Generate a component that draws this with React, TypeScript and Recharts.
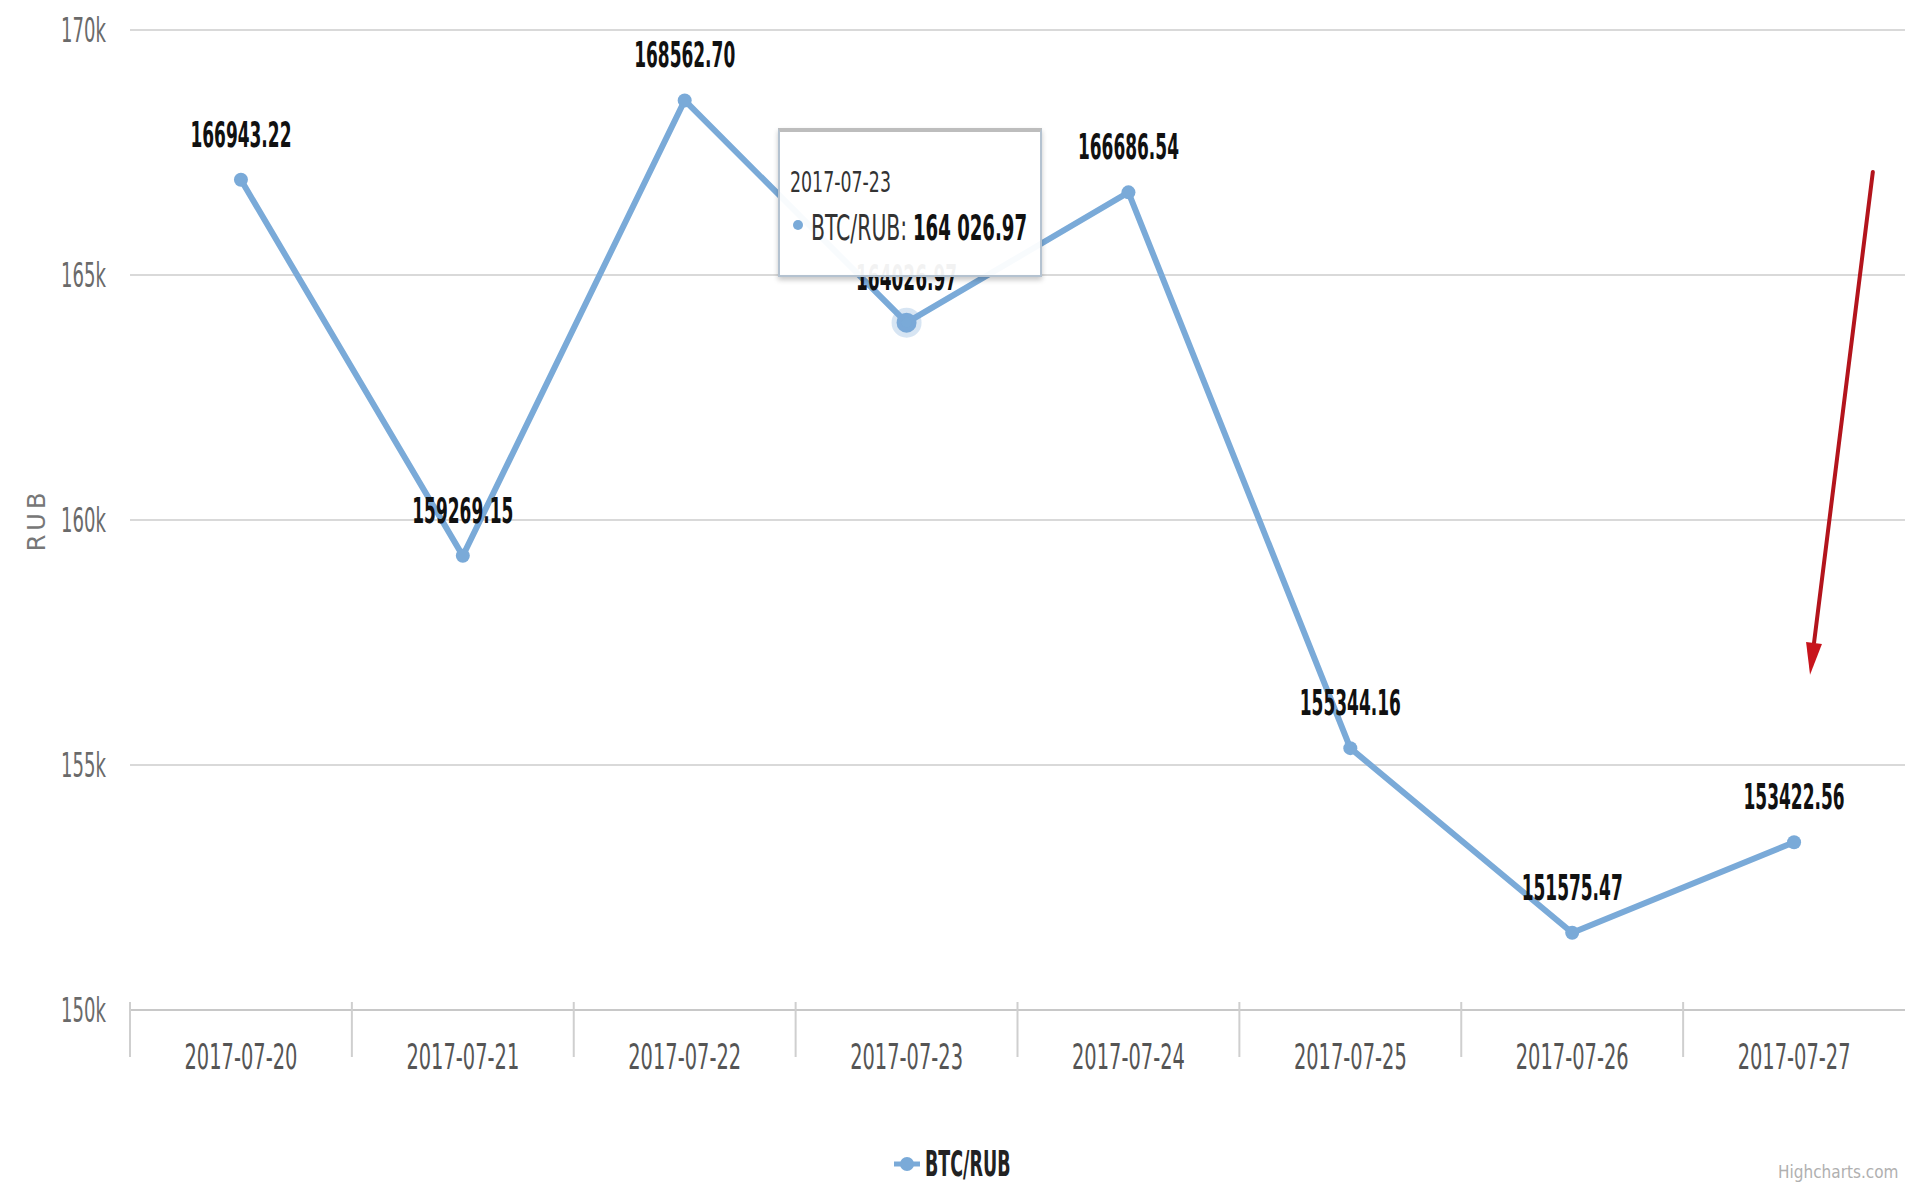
import React from 'react';
import {
  LineChart,
  Line,
  XAxis,
  YAxis,
  CartesianGrid,
  Tooltip,
  Legend,
  ReferenceLine,
  LabelList,
} from 'recharts';

// ---------- data ----------
const dates = [
  '2017-07-20',
  '2017-07-21',
  '2017-07-22',
  '2017-07-23',
  '2017-07-24',
  '2017-07-25',
  '2017-07-26',
  '2017-07-27',
];
const btcRub = [166943.22, 159269.15, 168562.7, 164026.97, 166686.54, 155344.16, 151575.47, 153422.56];
const yTicks = [150000, 155000, 160000, 165000, 170000];
const yTickLabels = ['150k', '155k', '160k', '165k', '170k'];
const xTickIndexes = [0, 1, 2, 3, 4, 5, 6, 7];
const seriesName = 'BTC/RUB';
const yAxisTitle = 'RUB';
const creditText = 'Highcharts.com';
const highlightedIndex = 3;
// annotation arrow, in (category index, RUB) units
const arrowFrom = { x: 7.355, y: 167100 };
const arrowTo = { x: 7.072, y: 156840 };

const data = dates.map((d, i) => ({ idx: i, date: d, value: btcRub[i] }));

// ---------- styles ----------
const FONT = '"Liberation Sans Narrow", "DejaVu Sans Condensed", "Arial Narrow", sans-serif';
const LINE_COLOR = '#7aaad8';

const CText = ({ x, y, anchor = 'middle', size, weight = 'normal', fill, sx, children }: any) => (
  <text
    transform={`translate(${x},${y}) scale(${sx},1)`}
    x={0}
    y={0}
    textAnchor={anchor}
    fontSize={size}
    fontWeight={weight}
    fill={fill}
    fontFamily={FONT}
  >
    {children}
  </text>
);

const YTick = (props: any) => {
  const { x, y, payload } = props;
  const idx = yTicks.indexOf(payload.value);
  const label = idx >= 0 ? yTickLabels[idx] : `${payload.value / 1000}k`;
  return (
    <CText x={x} y={y + 12} anchor="end" size={34} fill="#6a6a6a" sx={0.59}>
      {label}
    </CText>
  );
};

const XTick = (props: any) => {
  const { x, y, payload, width, visibleTicksCount } = props;
  const half = width / (visibleTicksCount || dates.length) / 2;
  return (
    <g>
      <line x1={x - half} x2={x - half} y1={y - 8} y2={y + 47} stroke="#cfcfcf" strokeWidth={2} />
      <CText x={x} y={y + 59} anchor="middle" size={36} fill="#555" sx={0.6}>
        {dates[payload.value]}
      </CText>
    </g>
  );
};

const renderPointLabel = (props: any) => {
  const vb = props.viewBox || {};
  const cx = typeof props.x === 'number' ? props.x + (props.width || 0) / 2 : vb.x + (vb.width || 0) / 2;
  const cy = typeof props.y === 'number' ? props.y : vb.y;
  return (
    <CText x={cx} y={cy - 33} size={35} weight="bold" fill="#111" sx={0.54}>
      {Number(props.value).toFixed(2)}
    </CText>
  );
};

const renderYLabel = (props: any) => {
  const vb = props.viewBox || { x: 0, y: 0, width: 0, height: 0 };
  const cx = vb.x + 37;
  const cy = vb.y + vb.height / 2;
  return (
    <text
      x={cx}
      y={cy}
      transform={`rotate(-90, ${cx}, ${cy})`}
      textAnchor="middle"
      dominantBaseline="central"
      fontSize={24}
      letterSpacing={4}
      fill="#777"
      fontFamily='"DejaVu Sans", sans-serif'
    >
      {yAxisTitle}
    </text>
  );
};

const ArrowShape = (props: any) => {
  const { x1, y1, x2, y2 } = props;
  if ([x1, y1, x2, y2].some((v) => typeof v !== 'number' || isNaN(v))) return <g />;
  const dx = x2 - x1;
  const dy = y2 - y1;
  const len = Math.sqrt(dx * dx + dy * dy) || 1;
  const ux = dx / len;
  const uy = dy / len;
  const headLen = 32;
  const headHalf = 8;
  const bx = x2 - ux * headLen;
  const by = y2 - uy * headLen;
  const px = -uy;
  const py = ux;
  return (
    <g>
      <line x1={x1} y1={y1} x2={bx} y2={by} stroke="#b3141c" strokeWidth={4} strokeLinecap="round" />
      <polygon
        points={`${x2},${y2} ${bx + px * headHalf},${by + py * headHalf} ${bx - px * headHalf},${by - py * headHalf}`}
        fill="#c8141c"
      />
    </g>
  );
};

const formatSpaced = (v: number) => {
  const [i, d] = v.toFixed(2).split('.');
  return `${i.replace(/\B(?=(\d{3})+(?!\d))/g, ' ')}.${d}`;
};

const TooltipBox = (props: any) => {
  const { active, payload } = props;
  if (!active || !payload || !payload.length) return null;
  const row = payload[0].payload || {};
  const v = Number(payload[0].value);
  return (
    <div
      style={{
        width: 264,
        height: 149,
        boxSizing: 'border-box',
        background: 'rgba(255,255,255,0.95)',
        border: '2px solid #b4c2d0',
        borderTop: '4px solid #bdbdbd',
        boxShadow: '0 3px 5px rgba(0,0,0,0.22)',
      }}
    >
      <svg width={260} height={143} style={{ display: 'block' }}>
        <CText x={10} y={60} anchor="start" size={28} fill="#333" sx={0.69}>
          {row.date}
        </CText>
        <circle cx={18} cy={93} r={5} fill={LINE_COLOR} />
        <CText x={31} y={108} anchor="start" size={36} fill="#333" sx={0.63}>
          {`${seriesName}:`}
        </CText>
        <CText x={133} y={108} anchor="start" size={36} weight="bold" fill="#111" sx={0.56}>
          {formatSpaced(v)}
        </CText>
      </svg>
    </div>
  );
};

const LegendBox = () => (
  <div style={{ height: 46, display: 'flex', justifyContent: 'center', alignItems: 'flex-start' }}>
    <svg width={160} height={46} style={{ display: 'block', marginLeft: 42 }}>
      <line x1={0} x2={26} y1={24} y2={24} stroke={LINE_COLOR} strokeWidth={5} />
      <circle cx={13} cy={24} r={7} fill={LINE_COLOR} />
      <CText x={31} y={36} anchor="start" size={36} weight="bold" fill="#222" sx={0.54}>
        {seriesName}
      </CText>
    </svg>
  </div>
);

export default function App() {
  return (
    <div
      style={{
        position: 'absolute',
        left: 0,
        top: 0,
        width: 1905,
        height: 1186,
        background: '#ffffff',
        overflow: 'hidden',
      }}
    >
      <LineChart width={1905} height={1186} data={data} margin={{ top: 30, right: 0, left: 0, bottom: 0 }}>
        <CartesianGrid vertical={false} stroke="#d9d9d9" strokeWidth={2} />
        <XAxis
          dataKey="idx"
          type="number"
          domain={[-0.5, 7.5]}
          allowDataOverflow
          ticks={xTickIndexes}
          height={130}
          interval={0}
          tickSize={0}
          tickMargin={0}
          tickLine={false}
          axisLine={{ stroke: '#c8c8c8', strokeWidth: 2 }}
          tick={<XTick />}
        />
        <YAxis
          domain={[150000, 170000]}
          ticks={yTicks}
          interval={0}
          width={130}
          axisLine={false}
          tickLine={false}
          tickSize={0}
          tickMargin={24}
          tick={<YTick />}
          label={{ value: yAxisTitle, position: 'insideLeft', content: renderYLabel }}
        />
        <ReferenceLine segment={[arrowFrom, arrowTo]} shape={ArrowShape} ifOverflow="visible" />
        <Line
          type="linear"
          dataKey="value"
          name={seriesName}
          stroke={LINE_COLOR}
          strokeWidth={6}
          dot={{ r: 7, fill: LINE_COLOR, stroke: LINE_COLOR, strokeWidth: 0 }}
          activeDot={{ r: 10, fill: LINE_COLOR, stroke: 'rgba(122,170,216,0.3)', strokeWidth: 10 }}
          isAnimationActive={false}
        >
          <LabelList dataKey="value" content={renderPointLabel} />
        </Line>
        <Tooltip
          active
          defaultIndex={highlightedIndex}
          position={{ x: 778, y: 128 }}
          cursor={false}
          isAnimationActive={false}
          content={<TooltipBox />}
          wrapperStyle={{ outline: 'none', zIndex: 5 }}
        />
        <Legend verticalAlign="bottom" align="center" content={<LegendBox />} />
      </LineChart>
      <div
        style={{
          position: 'absolute',
          left: 1778,
          top: 1162,
          fontFamily: FONT,
          fontSize: 17,
          color: '#b0b0b0',
          whiteSpace: 'nowrap',
        }}
      >
        {creditText}
      </div>
    </div>
  );
}
